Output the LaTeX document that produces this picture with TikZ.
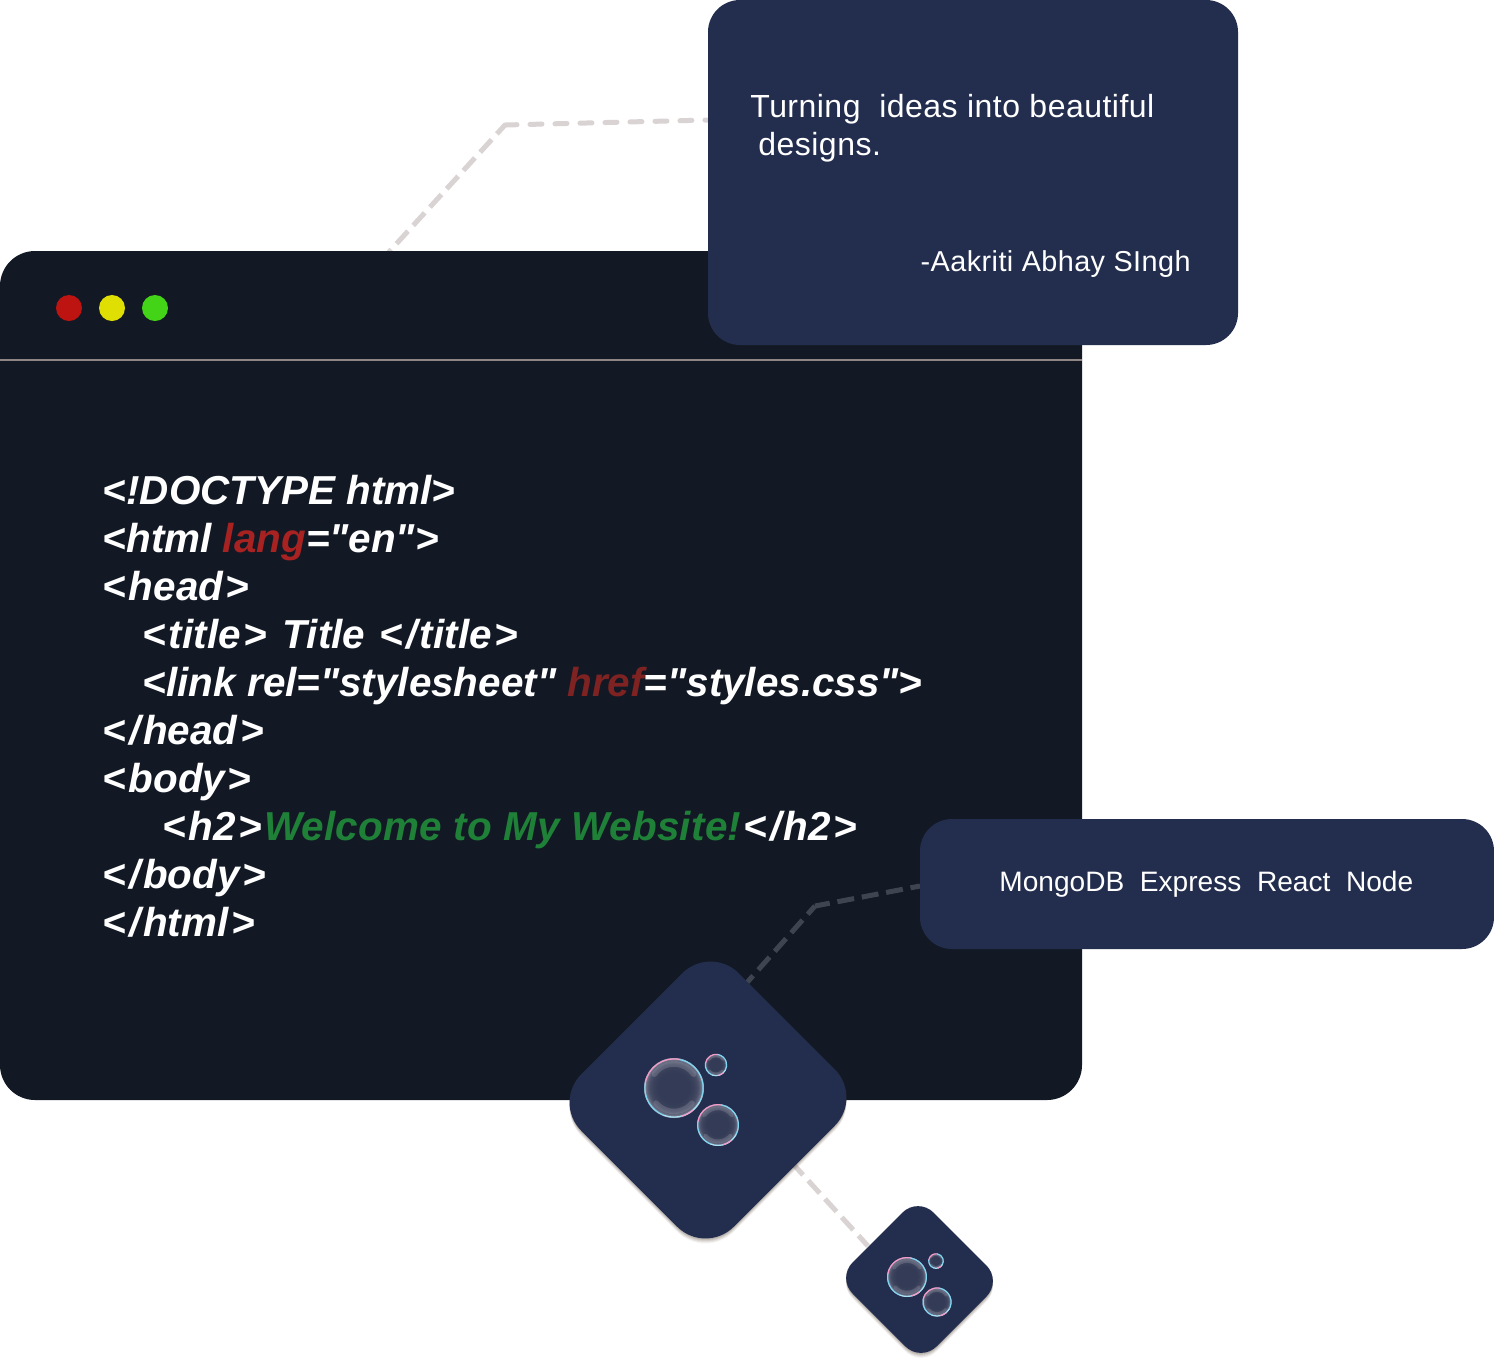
\documentclass[tikz,border=0pt]{standalone}
\usepackage{fontspec}
\usetikzlibrary{calc}
\setmainfont[Ligatures=TeXOff]{Liberation Sans}
\newfontfamily\quotefont[Ligatures=TeXOff,LetterSpace=1.5]{Liberation Sans}
\definecolor{winbg}{HTML}{121924}
\definecolor{card}{HTML}{232E4E}
\definecolor{bubcore}{HTML}{333A56}
\definecolor{dashc}{HTML}{DAD3D3}
\definecolor{dashd}{HTML}{3F4550}
\definecolor{rulec}{HTML}{8F8585}
\definecolor{redd}{HTML}{BD1311}
\definecolor{yeld}{HTML}{DFDF04}
\definecolor{grnd}{HTML}{43D317}
\definecolor{attr}{HTML}{A82222}
\definecolor{attrb}{HTML}{7F2222}
\definecolor{greent}{HTML}{1F8038}
\definecolor{bubpink}{HTML}{F79AC8}
\definecolor{bubcyan}{HTML}{7FD6F2}
\tikzset{x=0.5pt,y=-0.5pt,
  windowbox/.style={fill=winbg,rounded corners=17.5pt},
  cardbox/.style={fill=card},
  dot/.style={circle,minimum size=13pt,inner sep=0pt},
  conn/.style={line width=2.5pt,dash pattern=on 8.5pt off 3.9pt},
  connround/.style={line width=2.5pt,line cap=round,dash pattern=on 6pt off 6.5pt},
  codeline/.style={anchor=base west,inner sep=0pt,text=white,font=\fontsize{20.2pt}{24pt}\selectfont\bfseries\itshape},
  txtlarge/.style={anchor=base west,inner sep=0pt,text=white,font=\quotefont\fontsize{16pt}{19pt}\selectfont},
  txtauthor/.style={anchor=base east,inner sep=0pt,text=white,font=\quotefont\fontsize{14.4pt}{19pt}\selectfont},
  txtsmall/.style={anchor=base west,inner sep=0pt,text=white,font=\fontsize{14.05pt}{19pt}\selectfont},
}
\newcommand{\lb}{<\kern1.2pt}
\newcommand{\rb}{\kern1.2pt>}
\newcommand{\cl}{<\kern1.6pt/\kern1.2pt}
\newcommand{\bubarc}[6]{%
  \draw[#6,line width=.6pt,line cap=round] (#1,#2) ++(#4:0.97*#3) arc[start angle=#4,end angle=#5,radius=0.97*#3];
}
\newcommand{\bubble}[3]{%
  \fill[white,opacity=.55] (#1,#2) circle[radius=#3];
  \foreach \k in {.98,.95,.92,.89,.86,.83,.80,.76,.72,.68,.64,.60,.55,.50}{
    \fill[bubcore,opacity=.22] (#1,#2) circle[radius=\k*#3];
  }
  \draw[white,opacity=.14,line width=0.09*#3 pt,line cap=round] (#1,#2) ++(215:0.8*#3) arc[start angle=215,end angle=325,radius=0.8*#3];
  \draw[white,opacity=.14,line width=0.09*#3 pt,line cap=round] (#1,#2) ++(40:0.78*#3) arc[start angle=40,end angle=140,radius=0.78*#3];
  \bubarc{#1}{#2}{#3}{-80}{30}{bubcyan}
  \bubarc{#1}{#2}{#3}{110}{190}{bubcyan}
  \bubarc{#1}{#2}{#3}{30}{110}{bubcyan!70!white}
  \bubarc{#1}{#2}{#3}{50}{75}{bubpink}
  \bubarc{#1}{#2}{#3}{190}{280}{bubpink}
}
\begin{document}
\begin{tikzpicture}
\useasboundingbox (0,0) rectangle (1494,1362);
\fill[white] (0,0) rectangle (1494,1362);
\coordinate (c1a) at (388,253);
\coordinate (c1b) at (505,125);
\coordinate (c1c) at (708,120);
\coordinate (c2a) at (743,987);
\coordinate (c2b) at (815,906);
\coordinate (c2c) at (920,886);
\coordinate (c3a) at (794,1165);
\coordinate (c3b) at (868,1246);
\draw[conn,dashc,dash phase=2.5pt] (c1b) -- (c1a);
\draw[connround,dashc] (c1b) -- (c1c);
\fill[windowbox] (0,251) rectangle (1082,1100);
\draw[rulec,line width=1pt] (0,360) -- (1082,360);
\node[dot,fill=redd] (r) at (69,308) {};
\node[dot,fill=yeld] (y) at (112,308) {};
\node[dot,fill=grnd] (g) at (155,308) {};
\fill[cardbox,rounded corners=16pt] (708,0) rectangle (1238,345);
\node[txtlarge] (q1) at (750,117) {Turning\ \ ideas into beautiful};
\node[txtlarge] (q2) at (758,155) {designs.};
\node[txtauthor] (q3) at (1191,271) {-Aakriti Abhay SIngh};
\node[codeline] (l1) at (102.5,504) {<!DOCTYPE html>};
\node[codeline] (l2) at (102.5,552) {<html \textcolor{attr}{lang}="en">};
\node[codeline] (l3) at (102.5,600) {\lb head\rb};
\node[codeline] (l4) at (142.5,648) {\lb title\rb{} \kern2.5pt Title \kern1.5pt\cl title\rb};
\node[codeline] (l5) at (142.5,696) {<link rel="stylesheet" \textcolor{attrb}{href}="styles.css">};
\node[codeline] (l6) at (102.5,744) {\cl head\rb};
\node[codeline] (l7) at (102.5,792) {\lb body\rb};
\node[codeline] (l8) at (162.5,840) {\lb h2\rb\kern1pt\textcolor{greent}{\addfontfeature{LetterSpace=0.7}Welcome to My Website!}\kern1pt\cl h2\rb};
\node[codeline] (l9) at (102.5,888) {\cl body\rb};
\node[codeline] (l10) at (102.5,936) {\cl html\rb};
\draw[conn,dashd,dash phase=3pt] (c2b) -- (c2a);
\draw[conn,dashd,dash phase=1pt] (c2b) -- (c2c);
\fill[cardbox,rounded corners=16pt] (920,819) rectangle (1494,949);
\node[txtsmall] (st) at (999,891) {MongoDB\ \ Express\ \ React\ \ Node};
\draw[conn,dashc,dash phase=1.8pt] (c3a) -- (c3b);
\foreach \d/\o in {1/.10,2/.10,3/.08,4/.07,5/.05}{
  \fill[black!70!brown,opacity=\o,rounded corners=20pt,shift={(0,\d)}] (710.5,945) -- (863,1097.5) -- (705.5,1255) -- (553,1102.5) -- cycle;
  \fill[black!70!brown,opacity=\o,rounded corners=11pt,shift={(0,\d)}] (918,1197) -- (1002,1281) -- (921,1362) -- (837,1278) -- cycle;
}
\fill[cardbox,rounded corners=20pt] (710.5,945) -- (863,1097.5) -- (705.5,1255) -- (553,1102.5) -- cycle;
\bubble{674}{1088}{30}
\bubble{716}{1065}{11}
\bubble{718}{1125}{21}
\fill[cardbox,rounded corners=11pt] (918,1197) -- (1002,1281) -- (921,1362) -- (837,1278) -- cycle;
\bubble{907}{1277}{20}
\bubble{936}{1261}{7.5}
\bubble{937}{1302}{14.5}
\end{tikzpicture}
\end{document}
